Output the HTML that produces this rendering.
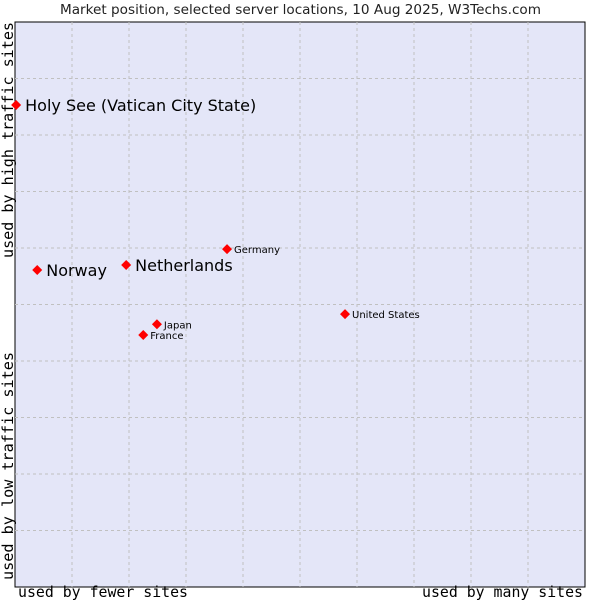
<!DOCTYPE html>
<html><head><meta charset="utf-8"><style>body{margin:0;background:#fff}svg{display:block}</style></head>
<body>
<svg id="c" width="600" height="600" xmlns="http://www.w3.org/2000/svg">
<text x="60" y="14" textLength="481" lengthAdjust="spacingAndGlyphs" font-family="DejaVu Sans, sans-serif" font-size="13" fill="#222">Market position, selected server locations, 10 Aug 2025, W3Techs.com</text>
<rect x="15" y="22" width="570" height="565" fill="#e4e6f8" stroke="#000" stroke-width="1"/>
<g id="grid"></g>
<text x="18" y="597" textLength="170" lengthAdjust="spacingAndGlyphs" font-family="DejaVu Sans Mono, monospace" font-size="15" fill="#000">used by fewer sites</text>
<text x="422" y="597" textLength="161" lengthAdjust="spacingAndGlyphs" font-family="DejaVu Sans Mono, monospace" font-size="15" fill="#000">used by many sites</text>
<text transform="translate(13,258) rotate(-90)" textLength="236" lengthAdjust="spacingAndGlyphs" font-family="DejaVu Sans Mono, monospace" font-size="15" fill="#000">used by high traffic sites</text>
<text transform="translate(13,580) rotate(-90)" textLength="228" lengthAdjust="spacingAndGlyphs" font-family="DejaVu Sans Mono, monospace" font-size="15" fill="#000">used by low traffic sites</text>
<g id="pts"></g>
</svg>
<script>
const countries = ["Holy See (Vatican City State)","Norway","Netherlands","Germany","United States","Japan","France"];
const xValues = [0.2,3.9,19.5,37.2,57.9,24.9,22.5];
const yValues = [85.3,56.1,57.0,59.8,48.3,46.5,44.6];
const bigLabel = [true,true,true,false,false,false,false];
const L=15,T=22,W=570,H=565;
const sx=v=>L+v/100*W, sy=v=>T+H-v/100*H;
const NS="http://www.w3.org/2000/svg";
const grid=document.getElementById('grid');
for(let i=1;i<10;i++){
  const a=document.createElementNS(NS,'line');
  a.setAttribute('x1',sx(i*10));a.setAttribute('x2',sx(i*10));a.setAttribute('y1',T);a.setAttribute('y2',T+H);
  a.setAttribute('stroke','#c0c0c0');a.setAttribute('stroke-dasharray','3,3');
  
  
  grid.appendChild(a);
  const b=document.createElementNS(NS,'line');
  b.setAttribute('y1',sy(i*10));b.setAttribute('y2',sy(i*10));b.setAttribute('x1',L);b.setAttribute('x2',L+W);
  b.setAttribute('stroke','#c0c0c0');b.setAttribute('stroke-dasharray','3,3');
  
  
  grid.appendChild(b);
}
const pts=document.getElementById('pts');
countries.forEach((c,i)=>{
  const x=sx(xValues[i]),y=sy(yValues[i]);
  const d=document.createElementNS(NS,'path');
  d.setAttribute('d',`M${x-5},${y}L${x},${y-5}L${x+5},${y}L${x},${y+5}Z`);
  d.setAttribute('fill','#f00');
  
  
  pts.appendChild(d);
  const t=document.createElementNS(NS,'text');
  t.setAttribute('x',x+(bigLabel[i]?9:7));t.setAttribute('y',y+(bigLabel[i]?6:4));
  t.setAttribute('font-family','DejaVu Sans, sans-serif');
  t.setAttribute('font-size',bigLabel[i]?16:10);
  t.textContent=c;
  
  
  pts.appendChild(t);
});
</script>
</body></html>
